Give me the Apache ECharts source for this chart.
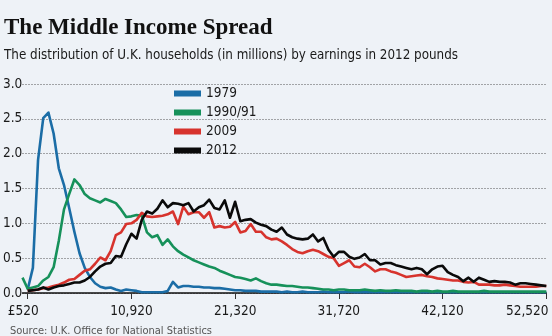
<!DOCTYPE html>
<html>
<head>
<meta charset="utf-8">
<script src="https://cdn.jsdelivr.net/npm/echarts@6/dist/echarts.min.js"></script>
<style>
  html, body { margin: 0; padding: 0; background: #eef2f7; }
  #chart { width: 552px; height: 336px; }
</style>
</head>
<body>
<div id="chart"></div>
<script>
// Weekly income bands of £10 (= £520 a year), in 2012 pounds
const bandWidth = 520;

// Households in each band, millions
const households1979 = [null,
  0.05, 0.36, 1.91, 2.51, 2.59, 2.29, 1.79, 1.55, 1.22, 0.88,
  0.57, 0.36, 0.23, 0.14, 0.09, 0.07, 0.08, 0.05, 0.03, 0.05,
  0.04, 0.03, 0.01, 0.01, 0.01, 0.01, 0.01, 0.03, 0.16, 0.08,
  0.10, 0.10, 0.09, 0.09, 0.08, 0.08, 0.07, 0.07, 0.06, 0.05,
  0.04, 0.04, 0.03, 0.03, 0.03, 0.02, 0.02, 0.02, 0.02, 0.01,
  0.02, 0.01, 0.01, 0.02, 0.01, 0.01, 0.01, 0.02, 0.01, 0.01,
  0.01, 0.01, 0.02, 0.01, 0.01, 0.01, 0.01, 0.01, 0.01, 0.01,
  0.01, 0.01, 0.01, 0.01, 0.01, 0.01, 0.01, 0.01, 0.01, 0.01,
  0.01, 0.01, 0.01, 0.01, 0.01, 0.01, 0.01, 0.01, 0.01, 0.01,
  0.01, 0.01, 0.01, 0.01, 0.01, 0.01, 0.01, 0.01, 0.01, 0.01,
  0.01];

const households1990 = [0.22,
  0.06, 0.08, 0.10, 0.18, 0.23, 0.37, 0.75, 1.20, 1.42, 1.63,
  1.55, 1.42, 1.36, 1.33, 1.30, 1.35, 1.32, 1.29, 1.20, 1.09,
  1.10, 1.12, 1.11, 0.87, 0.80, 0.83, 0.69, 0.77, 0.67, 0.60,
  0.55, 0.51, 0.47, 0.44, 0.41, 0.38, 0.36, 0.32, 0.29, 0.26,
  0.23, 0.22, 0.20, 0.18, 0.21, 0.17, 0.14, 0.12, 0.12, 0.11,
  0.10, 0.10, 0.09, 0.08, 0.08, 0.07, 0.06, 0.05, 0.05, 0.04,
  0.05, 0.05, 0.04, 0.04, 0.04, 0.05, 0.04, 0.03, 0.04, 0.03,
  0.03, 0.04, 0.03, 0.03, 0.03, 0.02, 0.03, 0.03, 0.02, 0.03,
  0.02, 0.02, 0.03, 0.02, 0.02, 0.02, 0.02, 0.02, 0.03, 0.02,
  0.02, 0.02, 0.02, 0.02, 0.02, 0.02, 0.02, 0.02, 0.02, 0.02,
  0.02];

const households2009 = [null,
  0.03, 0.04, 0.05, 0.07, 0.08, 0.10, 0.12, 0.15, 0.19, 0.20,
  0.26, 0.32, 0.34, 0.42, 0.51, 0.47, 0.60, 0.83, 0.87, 0.99,
  1.00, 1.05, 1.15, 1.10, 1.09, 1.10, 1.11, 1.13, 1.17, 0.99,
  1.24, 1.13, 1.16, 1.16, 1.08, 1.16, 0.94, 0.96, 0.94, 0.95,
  1.02, 0.87, 0.89, 0.99, 0.88, 0.88, 0.80, 0.77, 0.78, 0.74,
  0.69, 0.63, 0.59, 0.57, 0.60, 0.62, 0.60, 0.56, 0.52, 0.50,
  0.39, 0.43, 0.47, 0.38, 0.37, 0.42, 0.37, 0.31, 0.34, 0.34,
  0.31, 0.29, 0.26, 0.23, 0.24, 0.25, 0.26, 0.24, 0.23, 0.21,
  0.20, 0.19, 0.18, 0.18, 0.16, 0.15, 0.16, 0.12, 0.12, 0.12,
  0.11, 0.11, 0.12, 0.11, 0.10, 0.09, 0.09, 0.09, 0.09, 0.10,
  0.10];

const households2012 = [null,
  0.03, 0.04, 0.05, 0.08, 0.05, 0.08, 0.10, 0.11, 0.13, 0.15,
  0.15, 0.18, 0.23, 0.31, 0.38, 0.42, 0.43, 0.53, 0.52, 0.70,
  0.85, 0.78, 1.05, 1.17, 1.14, 1.21, 1.33, 1.23, 1.29, 1.28,
  1.26, 1.29, 1.17, 1.23, 1.26, 1.34, 1.22, 1.20, 1.33, 1.08,
  1.31, 1.03, 1.05, 1.06, 1.01, 0.98, 0.96, 0.91, 0.88, 0.94,
  0.84, 0.80, 0.78, 0.77, 0.78, 0.84, 0.74, 0.79, 0.62, 0.52,
  0.59, 0.59, 0.52, 0.49, 0.51, 0.56, 0.47, 0.47, 0.41, 0.43,
  0.43, 0.40, 0.38, 0.36, 0.34, 0.36, 0.34, 0.27, 0.34, 0.38,
  0.39, 0.30, 0.26, 0.23, 0.17, 0.22, 0.16, 0.22, 0.19, 0.16,
  0.17, 0.16, 0.16, 0.15, 0.12, 0.14, 0.14, 0.13, 0.12, 0.11,
  0.10];

const seriesNames = ['1979', '1990/91', '2009', '2012'];
const seriesColors = ['#1b6da6', '#16915a', '#d7332d', '#0a0a0a'];
const seriesValues = [households1979, households1990, households2009, households2012];

const xTickValues = [520, 10920, 21320, 31720, 42120, 52520];
const xTickLabels = ['£520', '10,920', '21,320', '31,720', '42,120', '52,520'];

const narrow = "'Liberation Sans Narrow', 'DejaVu Sans Condensed', 'Liberation Sans', sans-serif";
const inkColor = '#1a1a1a';

const chart = echarts.init(document.getElementById('chart'), null, { renderer: 'canvas' });

const series = seriesValues.map((vals, s) => ({
  name: seriesNames[s],
  type: 'line',
  data: vals.map((v, i) => [i * bandWidth, v]),
  showSymbol: false,
  symbol: 'none',
  lineStyle: { color: seriesColors[s], width: 2.6, join: 'round' },
  itemStyle: { color: seriesColors[s] },
  z: 2 + s
}));

chart.setOption({
  animation: false,
  backgroundColor: '#eef2f7',
  grid: { left: 22.5, right: 5.7, top: 84, bottom: 43, containLabel: false },
  graphic: [
    { type: 'text', left: 4, top: 17,
      style: { text: 'The Middle Income Spread', fill: '#111',
        font: "bold 23px 'Liberation Serif', 'DejaVu Serif', serif" } },
    { type: 'text', left: 4, top: 49,
      style: { text: 'The distribution of U.K. households (in millions) by earnings in 2012 pounds',
        fill: inkColor, font: '13.3px ' + narrow } },
    { type: 'text', left: 10, top: 326,
      style: { text: 'Source: U.K. Office for National Statistics', fill: '#555',
        font: '11px ' + narrow } }
  ],
  legend: {
    data: seriesNames,
    orient: 'vertical',
    left: 169, top: 81,
    icon: 'rect',
    itemWidth: 27, itemHeight: 6, itemGap: 4,
    textStyle: { fontFamily: narrow, fontSize: 13.5, color: inkColor, lineHeight: 15 }
  },
  xAxis: {
    type: 'value',
    min: 0, max: 52520,
    axisLine: { show: true, lineStyle: { color: '#111', width: 1.5 } },
    axisTick: { show: true, customValues: xTickValues, length: 6, lineStyle: { color: '#333', width: 1 } },
    axisLabel: {
      customValues: xTickValues,
      margin: 11,
      color: inkColor,
      fontFamily: narrow,
      fontSize: 13.5,
      formatter: v => {
        const idx = xTickValues.indexOf(v);
        const label = idx >= 0 ? xTickLabels[idx] : '';
        if (idx === 0) return '{first|' + label + '}';
        if (idx === xTickValues.length - 1) return '{last|' + label + '}';
        return label;
      },
      rich: {
        first: { fontFamily: narrow, fontSize: 13.5, color: inkColor, padding: [0, 9, 0, 0] },
        last: { fontFamily: narrow, fontSize: 13.5, color: inkColor, padding: [0, 38, 0, 0] }
      }
    },
    splitLine: { show: false }
  },
  yAxis: {
    type: 'value',
    min: 0, max: 3, interval: 0.5,
    axisLine: { show: false },
    axisTick: { show: false },
    axisLabel: {
      formatter: v => v.toFixed(1),
      align: 'left',
      margin: 19.5,
      color: inkColor,
      fontFamily: narrow,
      fontSize: 13.5
    },
    splitLine: { show: true, lineStyle: { color: '#555', width: 1, type: [1, 2] } }
  },
  series: series
});
</script>
</body>
</html>
